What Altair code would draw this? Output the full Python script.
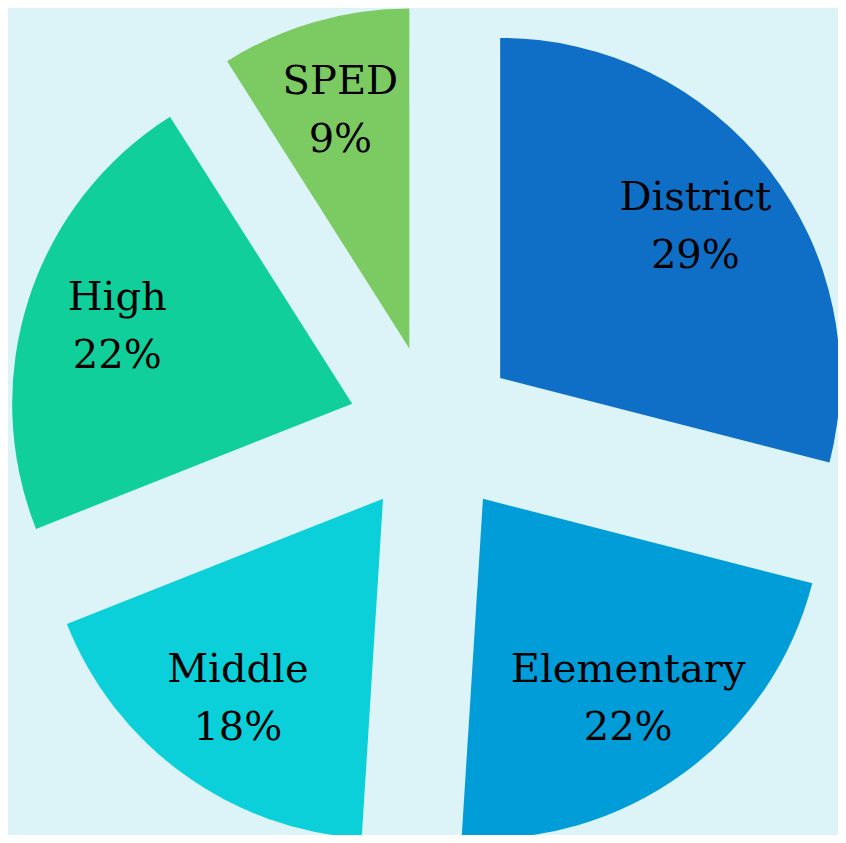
import altair as alt
import pandas as pd

categories = ["District", "Elementary", "Middle", "High", "SPED"]
values = [29, 22, 18, 22, 9]
colors = ["#0F6FC6", "#009DD9", "#0BD0D9", "#10CF9B", "#7CCA62"]

df = pd.DataFrame({"cat": categories, "val": values, "order": list(range(len(categories)))})

CX, CY = 425, 422      # pie center in chart coordinates
R = 340                # outer radius
EXPLODE = 85           # slice explosion distance
LABEL_R = 247          # label distance from slice apex
LINE_H = 58

base = alt.Chart(df).transform_joinaggregate(
    total="sum(val)"
).transform_window(
    cum="sum(val)", sort=[alt.SortField("order")], frame=[None, 0]
).transform_calculate(
    t0="2*PI*(datum.cum - datum.val)/datum.total",
    t1="2*PI*datum.cum/datum.total",
).transform_calculate(
    mid="(datum.t0 + datum.t1)/2"
).transform_calculate(
    ax=f"{CX} + {EXPLODE}*sin(datum.mid)",
    ay=f"{CY} - {EXPLODE}*cos(datum.mid)",
    lx=f"{CX} + {EXPLODE + LABEL_R}*sin(datum.mid)",
    ly=f"{CY} - {EXPLODE + LABEL_R}*cos(datum.mid)",
    label="datum.cat + '|' + datum.val + '%'",
)

arcs = base.mark_arc(outerRadius=R).encode(
    theta=alt.Theta("t0:Q", scale=None),
    theta2="t1:Q",
    x=alt.X("ax:Q", scale=None),
    y=alt.Y("ay:Q", scale=None),
    color=alt.Color("cat:N", scale=alt.Scale(domain=categories, range=colors), legend=None),
)

labels = base.mark_text(
    font="DejaVu Serif", fontSize=40, lineBreak="|", lineHeight=LINE_H,
    align="center", baseline="middle", color="#000000", dy=-LINE_H / 2
).encode(
    x=alt.X("lx:Q", scale=None),
    y=alt.Y("ly:Q", scale=None),
    text="label:N",
)

chart = (arcs + labels).properties(
    width=830, height=827, autosize=alt.AutoSizeParams(type="none"), padding=0,
    background="#DCF4F8",
).configure_view(stroke=None)

chart.save("out.html", embed_options={"renderer": "svg", "actions": False})
